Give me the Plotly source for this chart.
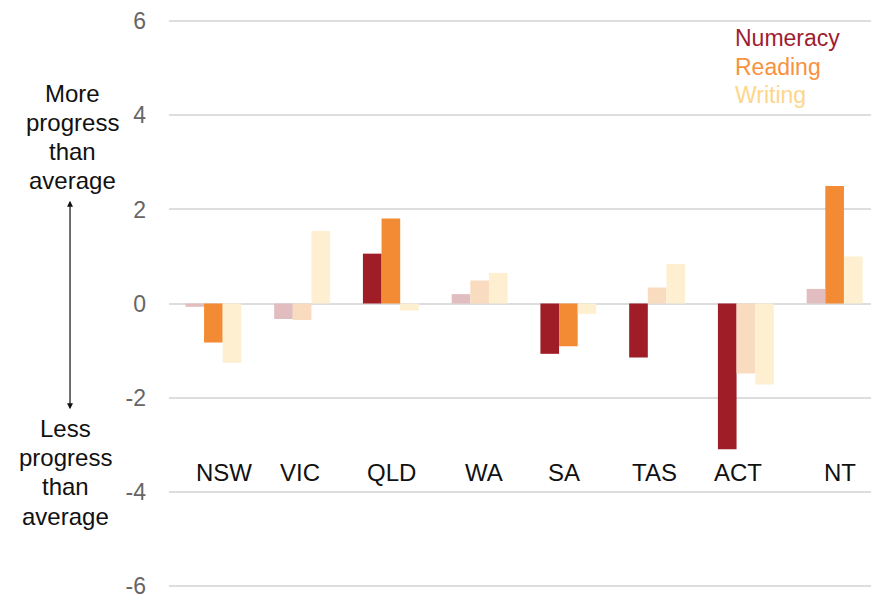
import plotly.graph_objects as go

states = ["NSW", "VIC", "QLD", "WA", "SA", "TAS", "ACT", "NT"]
numeracy = [-0.07, -0.33, 1.06, 0.20, -1.07, -1.15, -3.10, 0.31]
reading = [-0.83, -0.35, 1.81, 0.49, -0.91, 0.34, -1.49, 2.50]
writing = [-1.26, 1.54, -0.15, 0.65, -0.22, 0.84, -1.72, 1.00]
numeracy_sig = [False, False, True, False, True, True, True, False]
reading_sig = [True, False, True, False, True, False, False, True]
y_ticks = [-6, -4, -2, 0, 2, 4, 6]
label_shift = [11, -2, 1, 4, -4, -3, -8, 5]
more_lines = ["More", "progress", "than", "average"]
less_lines = ["Less", "progress", "than", "average"]

NUM_STRONG, NUM_FADE = "#9E1D27", "#E2BDC0"
READ_STRONG, READ_FADE = "#F28B33", "#F9DCBF"
WRITE = "#FDEFCF"
FONT = "Liberation Sans, Arial, sans-serif"

fig = go.Figure()
fig.add_trace(go.Bar(x=states, y=numeracy, name="Numeracy",
                     marker=dict(color=[NUM_STRONG if s else NUM_FADE for s in numeracy_sig], line=dict(width=0))))
fig.add_trace(go.Bar(x=states, y=reading, name="Reading",
                     marker=dict(color=[READ_STRONG if s else READ_FADE for s in reading_sig], line=dict(width=0))))
fig.add_trace(go.Bar(x=states, y=writing, name="Writing",
                     marker=dict(color=WRITE, line=dict(width=0))))

fig.update_layout(
    width=871, height=591,
    margin=dict(l=161, r=0, t=7, b=9),
    paper_bgcolor="white", plot_bgcolor="white",
    barmode="group", bargap=0.37, bargroupgap=0,
    showlegend=False,
    font=dict(family=FONT),
)
fig.update_xaxes(showticklabels=False, showgrid=False, zeroline=False, showline=False)
fig.update_yaxes(range=[-6.05, 6.05], tickvals=y_ticks, ticktext=[str(v) for v in y_ticks],
                 showgrid=True, gridcolor="#DDDDDD", gridwidth=1.5,
                 zeroline=True, zerolinecolor="#DDDDDD", zerolinewidth=1.5,
                 showline=False, ticks="", ticklabelstandoff=22, ticklabeloverflow="allow",
                 tickfont=dict(size=23, color="#666666", family=FONT))

for s, dx in zip(states, label_shift):
    fig.add_annotation(x=s, y=-3.59, xref="x", yref="y", text=s, showarrow=False,
                       xshift=dx, xanchor="center", yanchor="middle",
                       font=dict(size=24, color="#111111", family=FONT))

legend_items = [("Numeracy", "#9E1D32"), ("Reading", "#F7923E"), ("Writing", "#FDD68C")]
for i, (t, c) in enumerate(legend_items):
    fig.add_annotation(x=0.795, y=5.64 - i * 0.6, xref="paper", yref="y", text=t, showarrow=False,
                       xanchor="left", yanchor="middle",
                       font=dict(size=23, color=c, family=FONT))

for i, t in enumerate(more_lines):
    fig.add_annotation(x=-0.1366, y=4.46 - i * 0.617, xref="paper", yref="y",
                       text=t, showarrow=False, xanchor="center", yanchor="middle",
                       font=dict(size=24, color="#111111", family=FONT))
for i, t in enumerate(less_lines):
    fig.add_annotation(x=-0.146, y=-2.66 - i * 0.62, xref="paper", yref="y",
                       text=t, showarrow=False, xanchor="center", yanchor="middle",
                       font=dict(size=24, color="#111111", family=FONT))

fig.add_annotation(x=-0.1394, y=-2.25, xref="paper", yref="y",
                   ax=0, ay=-210, showarrow=True, text="",
                   arrowside="end+start", arrowhead=2, arrowsize=1, arrowwidth=1.2,
                   arrowcolor="#111111")

fig.write_html("out.html")
